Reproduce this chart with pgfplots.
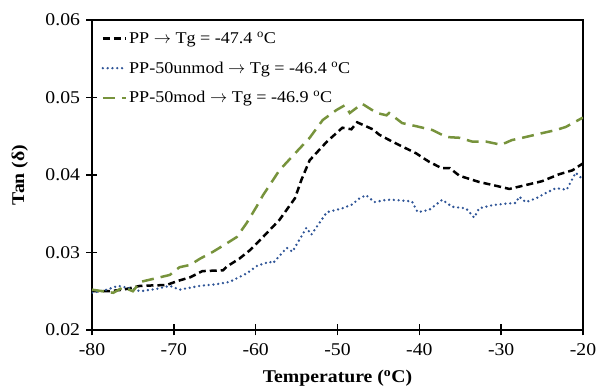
\documentclass[border=0pt]{standalone}
\usepackage{pgfplots}
\pgfplotsset{compat=1.18}
\usepackage{fontspec}
\setmainfont{Liberation Serif}[FakeStretch=1.1]
\usetikzlibrary{calc}
\definecolor{ppblue}{HTML}{2F5597}
\definecolor{ppgreen}{HTML}{77933C}
\begin{document}
\begin{tikzpicture}
\begin{axis}[
  scale only axis,
  width=491bp, height=310bp,
  xmin=-80, xmax=-20, ymin=0.02, ymax=0.06,
  xtick={-80,-70,...,-20},
  ytick={0.02,0.03,0.04,0.05,0.06},
  scaled y ticks=false,
  yticklabel style={/pgf/number format/fixed,/pgf/number format/precision=2,/pgf/number format/fixed zerofill, xshift=-3bp},
  xticklabel style={yshift=-5bp},
  /pgf/number format/assume math mode=true,
  tick label style={font=\fontsize{18}{20}\selectfont},
  xtick pos=bottom, ytick pos=left,
  major tick length=11bp,
  major tick style={draw=black, line width=1.5bp},
  tick align=center,
  axis line style={black, line width=1.8bp},
  xlabel={\textbf{Temperature (\textsuperscript{o}C)}},
  ylabel={\textbf{Tan (δ)}},
  label style={font=\fontsize{18}{20}\selectfont},
  xlabel style={at={(axis description cs:0.5,-0.155)}, anchor=center},
  ylabel style={at={(axis description cs:-0.147,0.5)}, anchor=center},
  legend cell align=left,
  legend style={at={(axis description cs:0.015,0.975)}, anchor=north west, draw=none, fill=none,
    font=\fontsize{16.5}{19}\selectfont, row sep=12.5bp, inner sep=2bp},
  legend image code/.code={\draw[#1] (0bp,0bp) -- (23bp,0bp);},
]
\addplot[black, line width=2.5bp, dash pattern=on 7bp off 4bp] coordinates {
(-80,0.0250) (-78,0.0250) (-76.2,0.0252) (-74.1,0.0257) (-70.9,0.0258) (-69.6,0.0263)
(-68,0.0268) (-66.5,0.0276) (-64,0.0277) (-63.5,0.0282) (-62,0.0292) (-60.7,0.0303)
(-59.1,0.0320) (-57.1,0.0342) (-55.2,0.0370) (-54.4,0.0394) (-53.4,0.0419) (-51.3,0.0443)
(-49.4,0.0461) (-48.3,0.0459) (-47.6,0.0468) (-45.7,0.0459) (-44.9,0.0452) (-43.3,0.0443)
(-40.4,0.0428) (-38.8,0.0417) (-37.3,0.0409) (-36.3,0.0409) (-35.1,0.0399) (-32.7,0.0391)
(-30.6,0.0386) (-29.0,0.0382) (-27,0.0387) (-25,0.0392) (-22.9,0.0401) (-21.3,0.0406) (-20,0.0415)
};
\addlegendentry{PP $\rightarrow$ Tg = -47.4 \textsuperscript{o}C}
\addplot[ppblue, line width=2.6bp, line cap=round, dash pattern=on 0bp off 4.8bp] coordinates {
(-80,0.0248) (-78.5,0.0251) (-76.8,0.0257) (-75.4,0.0254) (-74.1,0.0250) (-72.1,0.0253)
(-70.5,0.0257) (-69.3,0.0252) (-66.8,0.0257) (-64.8,0.0259) (-63.2,0.0262) (-61.1,0.0273)
(-59.8,0.0283) (-58.3,0.0288) (-57.9,0.0286) (-56.2,0.0306) (-55.5,0.0301) (-53.8,0.0332)
(-53.2,0.0323) (-51.3,0.0352) (-49.4,0.0357) (-48.2,0.0362) (-47.3,0.0370) (-46.5,0.0374)
(-45.5,0.0365) (-44.0,0.0368) (-43.3,0.0368) (-40.9,0.0366) (-40.2,0.0352) (-38.8,0.0355)
(-37.2,0.0368) (-36.0,0.0359) (-34.3,0.0357) (-33.3,0.0345) (-32.7,0.0357) (-31.1,0.0361)
(-29.4,0.0363) (-28.2,0.0364) (-27.8,0.0372) (-27.0,0.0365) (-25.7,0.0370) (-24.5,0.0377)
(-23.3,0.0383) (-22.0,0.0381) (-20.9,0.0403) (-20.0,0.0394)
};
\addlegendentry{PP-50unmod $\rightarrow$ Tg = -46.4 \textsuperscript{o}C}
\addplot[ppgreen, line width=2.5bp, dash pattern=on 12bp off 7bp] coordinates {
(-80,0.0252) (-77.4,0.0248) (-76.2,0.0255) (-75,0.0250) (-74.1,0.0262) (-71.7,0.0268)
(-70.5,0.0271) (-69.3,0.0281) (-68.0,0.0284) (-66.8,0.0292) (-65.2,0.0301) (-63.5,0.0312)
(-62.3,0.0320) (-61.1,0.0338) (-59.9,0.0359) (-59.1,0.0374) (-57.1,0.0406) (-55.0,0.0430)
(-53.4,0.0448) (-51.8,0.0471) (-50.1,0.0484) (-49.1,0.0490) (-48.5,0.0480) (-47.0,0.0492)
(-45.2,0.0480) (-44.0,0.0477) (-43.7,0.0480) (-42.1,0.0467) (-40.4,0.0463) (-38.4,0.0458)
(-36.7,0.0449) (-35.1,0.0448) (-33.5,0.0443) (-31.8,0.0443) (-30,0.0439) (-28.7,0.0445)
(-27,0.0449) (-25,0.0454) (-23.3,0.0458) (-22.1,0.0462) (-20.2,0.0473) (-20,0.0474)
};
\addlegendentry{PP-50mod $\rightarrow$ Tg = -46.9 \textsuperscript{o}C}
\end{axis}
\pgfresetboundingbox
\path[use as bounding box] ($(current axis.south west)+(-92bp,-61bp)$) rectangle ($(current axis.north east)+(17bp,20bp)$);
\end{tikzpicture}
\end{document}
